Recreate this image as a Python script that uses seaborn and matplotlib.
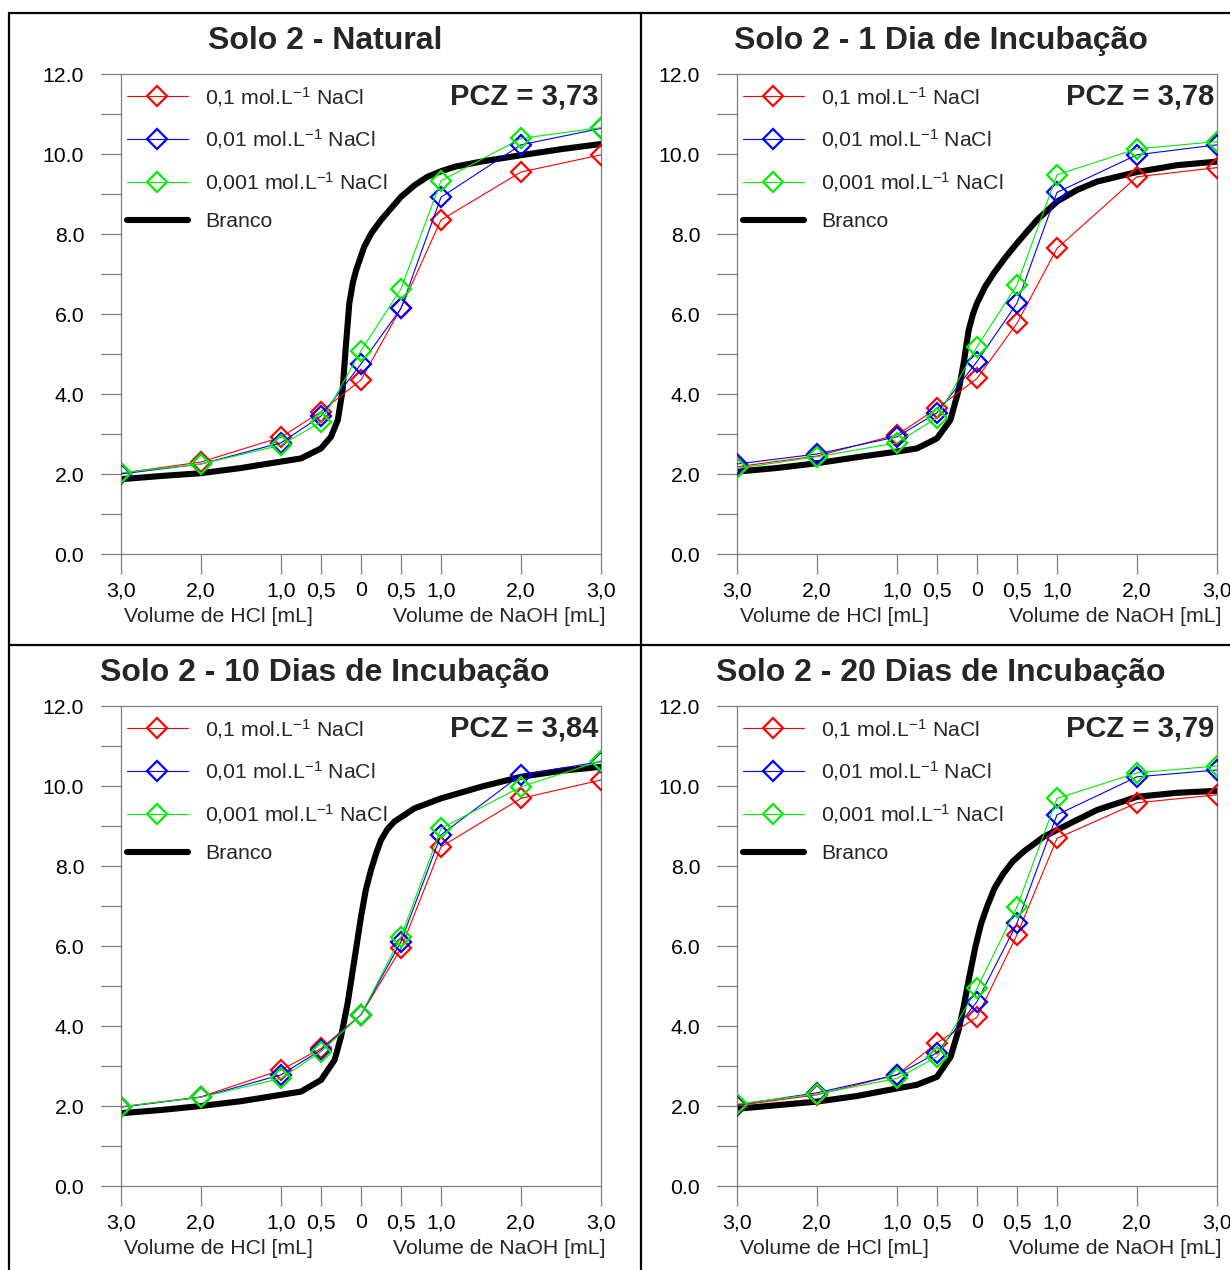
import matplotlib
matplotlib.use("Agg")
import matplotlib.pyplot as plt
from matplotlib.lines import Line2D
import seaborn as sns
import pandas as pd

# ---------------- data ----------------
x_points = [-3, -2, -1, -0.5, 0, 0.5, 1, 2, 3]
x_tick_labels = ["3,0", "2,0", "1,0", "0,5", "0", "0,5", "1,0", "2,0", "3,0"]
y_ticks = [0, 2, 4, 6, 8, 10, 12]
y_minor_ticks = [1, 3, 5, 7, 9, 11]

series_labels = ["0,1 mol.L$^{-1}$ NaCl", "0,01 mol.L$^{-1}$ NaCl", "0,001 mol.L$^{-1}$ NaCl"]
branco_label = "Branco"

titles = ["Solo 2 - Natural", "Solo 2 - 1 Dia de Incubação",
          "Solo 2 - 10 Dias de Incubação", "Solo 2 - 20 Dias de Incubação"]
pcz_texts = ["PCZ = 3,73", "PCZ = 3,78", "PCZ = 3,84", "PCZ = 3,79"]

# Solo 2 - Natural
natural_01 = [2.02, 2.30, 2.92, 3.56, 4.35, 6.15, 8.35, 9.55, 9.98]
natural_001 = [2.00, 2.25, 2.78, 3.45, 4.75, 6.14, 8.92, 10.23, 10.64]
natural_0001 = [2.03, 2.25, 2.72, 3.30, 5.08, 6.63, 9.33, 10.39, 10.66]
natural_branco_x = [-3, -2.5, -2, -1.5, -1, -0.75, -0.5, -0.375, -0.29, -0.23, -0.19,
                    -0.146, -0.1, -0.06, 0.0, 0.04, 0.13, 0.25, 0.5, 0.67, 0.83, 1.0,
                    1.17, 1.5, 2, 2.5, 3]
natural_branco_y = [1.87, 1.95, 2.02, 2.15, 2.31, 2.39, 2.64, 2.93, 3.35, 4.10, 5.18,
                    6.27, 6.80, 7.10, 7.45, 7.68, 8.02, 8.35, 8.93, 9.22, 9.43, 9.57,
                    9.68, 9.81, 9.97, 10.12, 10.25]

# Solo 2 - 1 Dia
dia1_01 = [2.18, 2.45, 2.98, 3.64, 4.39, 5.77, 7.64, 9.43, 9.66]
dia1_001 = [2.25, 2.50, 2.93, 3.53, 4.81, 6.27, 9.04, 9.98, 10.23]
dia1_0001 = [2.14, 2.43, 2.78, 3.41, 5.18, 6.73, 9.48, 10.13, 10.31]
dia1_branco_x = [-3, -2.5, -2, -1.5, -1, -0.75, -0.5, -0.333, -0.229, -0.167, -0.104,
                 -0.05, 0, 0.1, 0.21, 0.35, 0.5, 0.75, 1.0, 1.25, 1.5, 2, 2.5, 3]
dia1_branco_y = [2.06, 2.15, 2.27, 2.42, 2.56, 2.64, 2.89, 3.35, 4.10, 4.77, 5.60,
                 6.00, 6.27, 6.68, 7.02, 7.40, 7.77, 8.35, 8.81, 9.10, 9.31, 9.55, 9.72, 9.81]

# Solo 2 - 10 Dias
dia10_01 = [1.98, 2.23, 2.90, 3.44, 4.28, 5.94, 8.48, 9.69, 10.15]
dia10_001 = [1.97, 2.22, 2.78, 3.40, 4.28, 6.11, 8.78, 10.28, 10.61]
dia10_0001 = [1.98, 2.22, 2.69, 3.36, 4.28, 6.23, 8.94, 9.98, 10.63]
dia10_branco_x = [-3, -2.5, -2, -1.5, -1, -0.75, -0.5, -0.33, -0.25, -0.167, -0.083,
                  0, 0.06, 0.125, 0.19, 0.25, 0.33, 0.417, 0.667, 1.0, 1.5, 2, 2.5, 3]
dia10_branco_y = [1.82, 1.90, 2.00, 2.12, 2.28, 2.36, 2.65, 3.15, 3.73, 4.57, 5.65,
                  6.73, 7.40, 7.90, 8.32, 8.65, 8.92, 9.11, 9.44, 9.69, 9.98, 10.23, 10.38, 10.48]

# Solo 2 - 20 Dias
dia20_01 = [2.01, 2.28, 2.78, 3.58, 4.22, 6.28, 8.69, 9.58, 9.78]
dia20_001 = [2.03, 2.33, 2.78, 3.33, 4.61, 6.57, 9.28, 10.23, 10.40]
dia20_0001 = [2.05, 2.30, 2.69, 3.23, 4.94, 6.98, 9.69, 10.33, 10.50]
dia20_branco_x = [-3, -2.5, -2, -1.5, -1, -0.75, -0.5, -0.33, -0.23, -0.167, -0.104,
                  -0.02, 0.05, 0.125, 0.22, 0.333, 0.45, 0.583, 0.833, 1.167, 1.5, 2, 2.5, 3]
dia20_branco_y = [1.93, 2.02, 2.11, 2.25, 2.44, 2.53, 2.73, 3.23, 3.90, 4.48, 5.15,
                  5.98, 6.55, 6.98, 7.45, 7.82, 8.12, 8.36, 8.73, 9.07, 9.40, 9.73, 9.83, 9.88]

# ---------------- style ----------------
sns.set_theme(style="white")
plt.rcParams["font.family"] = ["Liberation Sans", "DejaVu Sans"]
plt.rcParams["mathtext.fontset"] = "custom"
plt.rcParams["mathtext.rm"] = "Liberation Sans"
plt.rcParams["mathtext.it"] = "Liberation Sans:italic"
plt.rcParams["mathtext.bf"] = "Liberation Sans:bold"

colors = ["#ff0000", "#0000ff", "#00ee00"]
spine_gray = "#7f7f7f"
fs = 15.3

W, H = 1230, 1270
fig = plt.figure(figsize=(W / 100, H / 100), dpi=100)

panels = [
    (natural_01, natural_001, natural_0001, natural_branco_x, natural_branco_y),
    (dia1_01, dia1_001, dia1_0001, dia1_branco_x, dia1_branco_y),
    (dia10_01, dia10_001, dia10_0001, dia10_branco_x, dia10_branco_y),
    (dia20_01, dia20_001, dia20_0001, dia20_branco_x, dia20_branco_y),
]

# pixel layout of the axes (left, top) and panel centers
ax_lefts = [121, 737, 121, 737]
ax_tops = [74, 74, 706, 706]
title_cx = [325, 941, 325, 941]
title_cy = [41, 41, 673, 673]
ax_w, ax_h = 480, 480

for i, (s1, s2, s3, bx, by) in enumerate(panels):
    l, t = ax_lefts[i], ax_tops[i]
    ax = fig.add_axes([l / W, 1 - (t + ax_h) / H, ax_w / W, ax_h / H])

    # Branco curve (below the measured series)
    dfb = pd.DataFrame({"x": bx, "y": by})
    sns.lineplot(data=dfb, x="x", y="y", ax=ax, color="black", lw=4.4,
                 estimator=None, sort=False, zorder=2)

    for j, vals in enumerate([s1, s2, s3]):
        df = pd.DataFrame({"x": x_points, "y": vals})
        sns.lineplot(data=df, x="x", y="y", ax=ax, color=colors[j], lw=0.8,
                     marker="D", markersize=9.8, markerfacecolor="none",
                     markeredgecolor=colors[j], markeredgewidth=1.6,
                     estimator=None, sort=False, zorder=3 + j)

    ax.set_xlim(-3, 3)
    ax.set_ylim(0, 12)
    ax.set_xticks(x_points)
    ax.set_xticklabels(x_tick_labels)
    ax.set_yticks(y_ticks)
    ax.set_yticklabels([f"{v:.1f}" for v in y_ticks])
    ax.set_yticks(y_minor_ticks, minor=True)
    ax.set_xlabel("")
    ax.set_ylabel("")
    for sp in ax.spines.values():
        sp.set_color(spine_gray)
        sp.set_linewidth(0.9)
        sp.set_visible(True)
    ax.tick_params(axis="both", which="both", direction="out", length=14.5,
                   width=0.9, color=spine_gray, labelsize=fs, labelcolor="black")
    ax.tick_params(axis="y", which="both", pad=12, left=True)
    ax.tick_params(axis="x", which="both", pad=5, bottom=True)
    ax.grid(False)
    ax.set_facecolor("white")

    # axis captions
    ax.text(0.204, -0.13, "Volume de HCl [mL]", transform=ax.transAxes,
            ha="center", va="center", fontsize=fs)
    ax.text(0.7875, -0.13, "Volume de NaOH [mL]", transform=ax.transAxes,
            ha="center", va="center", fontsize=fs)

    # PCZ annotation
    ax.text(0.994, 0.954, pcz_texts[i], transform=ax.transAxes, ha="right",
            va="center", fontsize=21, fontweight="bold")

    # legend
    handles = [Line2D([], [], color=colors[j], lw=0.8, marker="D", markersize=9.8,
                      markerfacecolor="none", markeredgecolor=colors[j],
                      markeredgewidth=1.6) for j in range(3)]
    handles.append(Line2D([], [], color="black", lw=4.4))
    ax.legend(handles, series_labels + [branco_label], loc="upper left",
              bbox_to_anchor=(-5 / ax_w, 1.0),
              frameon=False, fontsize=fs, handlelength=2.9, handletextpad=0.78,
              borderaxespad=0.0, borderpad=0.5, labelspacing=0.88)

    # panel title
    fig.text(title_cx[i] / W, 1 - title_cy[i] / H, titles[i], ha="center",
             va="center", fontsize=23, fontweight="bold")

# panel frame lines
def fline(x0, y0, x1, y1):
    fig.add_artist(Line2D([x0 / W, x1 / W], [1 - y0 / H, 1 - y1 / H],
                          color="black", lw=1.6, transform=fig.transFigure))

fline(9, 13, W, 13)
fline(9, 13, 9, H)
fline(641, 13, 641, H)
fline(9, 645, W, 645)

fig.savefig("out.png", dpi=100, facecolor="white")
